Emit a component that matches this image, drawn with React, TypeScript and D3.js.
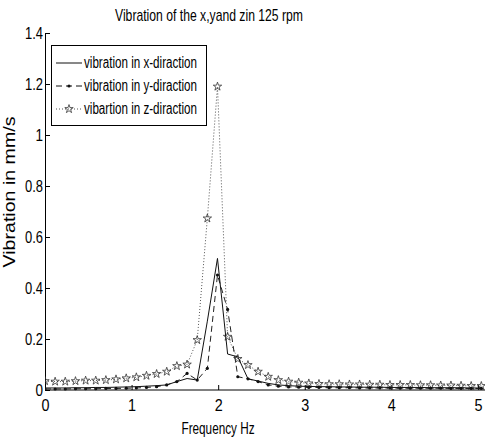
import React, { useRef, useEffect } from 'react'
import * as d3 from 'd3'

// frequency bins (Hz)
const freq = [
	0, 0.117, 0.234, 0.352, 0.469, 0.586, 0.703, 0.82, 0.938, 1.055, 1.172, 1.289, 1.406, 1.523, 1.641,
	1.758, 1.875, 1.992, 2.109, 2.227, 2.344, 2.461, 2.578, 2.695, 2.813, 2.93, 3.047, 3.164, 3.281, 3.398,
	3.516, 3.633, 3.75, 3.867, 3.984, 4.102, 4.219, 4.336, 4.453, 4.57, 4.688, 4.805, 4.922, 5.039,
]

const vibX = [
	0.008, 0.008, 0.008, 0.009, 0.009, 0.01, 0.01, 0.011, 0.012, 0.013, 0.015, 0.017, 0.02, 0.033, 0.045,
	0.039, 0.27, 0.516, 0.141, 0.13, 0.044, 0.035, 0.026, 0.02, 0.017, 0.015, 0.014, 0.013, 0.013, 0.012,
	0.012, 0.011, 0.011, 0.011, 0.01, 0.01, 0.01, 0.01, 0.009, 0.009, 0.009, 0.009, 0.008, 0.008,
]

const vibY = [
	0.004, 0.004, 0.004, 0.005, 0.005, 0.005, 0.006, 0.006, 0.007, 0.008, 0.01, 0.013, 0.02, 0.033, 0.065,
	0.039, 0.085, 0.451, 0.316, 0.052, 0.044, 0.033, 0.02, 0.015, 0.012, 0.011, 0.01, 0.01, 0.009, 0.009,
	0.009, 0.008, 0.008, 0.008, 0.008, 0.007, 0.007, 0.007, 0.007, 0.007, 0.006, 0.006, 0.006, 0.006,
]

const vibZ = [
	0.035, 0.033, 0.033, 0.035, 0.037, 0.037, 0.039, 0.042, 0.046, 0.05, 0.056, 0.063, 0.072, 0.094, 0.1,
	0.196, 0.673, 1.19, 0.209, 0.122, 0.098, 0.072, 0.052, 0.039, 0.033, 0.029, 0.026, 0.024, 0.023, 0.023,
	0.022, 0.022, 0.021, 0.021, 0.02, 0.02, 0.02, 0.019, 0.019, 0.018, 0.018, 0.017, 0.016, 0.016,
]

const xTicks = [0, 1, 2, 3, 4, 5]
const yTicks = [0, 0.2, 0.4, 0.6, 0.8, 1, 1.2, 1.4]
const legendLabels = ['vibration in x-diraction', 'vibration in y-diraction', 'vibartion in z-diraction']

const FONT = "'Liberation Sans Narrow', 'Arial Narrow', 'Liberation Sans', Arial, sans-serif"

const App = () => {
	const svgRef = useRef(null)

	useEffect(() => {
		const svg = d3.select(svgRef.current)
		svg.selectAll('*').remove()

		const width = 485
		const height = 441
		const margin = { top: 33, right: 1, bottom: 51, left: 45 }

		svg.attr('width', width).attr('height', height)

		const xScale = d3.scaleLinear().domain([0, 5.07]).range([margin.left, width - margin.right])
		const yScale = d3.scaleLinear().domain([0, 1.4]).range([height - margin.bottom, margin.top])

		svg.append('rect').attr('width', width).attr('height', height).attr('fill', '#fff')

		// tytuł
		svg
			.append('text')
			.attr('x', 209)
			.attr('y', 21)
			.attr('text-anchor', 'middle')
			.attr('font-family', FONT)
			.attr('font-size', 17)
			.attr('textLength', 188)
			.attr('lengthAdjust', 'spacingAndGlyphs')
			.text('Vibration of the x,yand zin 125 rpm')

		// osie - wąskie etykiety jak w matlabie
		const narrow = (sel, perChar) =>
			sel
				.attr('font-family', FONT)
				.attr('font-size', 16)
				.attr('fill', '#000')
				.attr('lengthAdjust', 'spacingAndGlyphs')
				.attr('textLength', function () {
					const t = d3.select(this).text()
					return t.replace('.', '').length * perChar + (t.includes('.') ? 3 : 0)
				})

		const xAxis = d3.axisBottom(xScale).tickValues(xTicks).tickSize(-5).tickPadding(10).tickFormat(d3.format('d'))
		const gx = svg
			.append('g')
			.attr('transform', `translate(0, ${height - margin.bottom})`)
			.call(xAxis)
		gx.select('.domain').attr('d', `M${margin.left},0H${width}`)
		narrow(gx.selectAll('text'), 8)

		const yAxis = d3.axisLeft(yScale).tickValues(yTicks).tickSize(-5).tickPadding(2).tickFormat(d3.format('~g'))
		const gy = svg.append('g').attr('transform', `translate(${margin.left}, 0)`).call(yAxis)
		narrow(gy.selectAll('text'), 7.5)

		svg
			.append('text')
			.attr('transform', `translate(15, 192) rotate(-90)`)
			.attr('text-anchor', 'middle')
			.attr('font-family', FONT)
			.attr('font-size', 17)
			.attr('textLength', 151)
			.attr('lengthAdjust', 'spacingAndGlyphs')
			.text('Vibration in mm/s')

		svg
			.append('text')
			.attr('x', 218)
			.attr('y', 434)
			.attr('text-anchor', 'middle')
			.attr('font-family', FONT)
			.attr('font-size', 16)
			.attr('textLength', 73)
			.attr('lengthAdjust', 'spacingAndGlyphs')
			.text('Frequency Hz')

		// dane
		const clip = svg.append('clipPath').attr('id', 'plot-clip')
		clip
			.append('rect')
			.attr('x', margin.left)
			.attr('y', margin.top - 10)
			.attr('width', width - margin.left)
			.attr('height', height - margin.bottom - margin.top + 12)

		const plot = svg.append('g').attr('clip-path', 'url(#plot-clip)')

		const makeLine = (vals: number[]) =>
			d3
				.line<number>()
				.x((_, i) => xScale(freq[i]))
				.y(d => yScale(d))(vals)

		const star = d3.symbol().type(d3.symbolStar).size(22)

		// z
		plot
			.append('path')
			.attr('d', makeLine(vibZ))
			.attr('fill', 'none')
			.attr('stroke', '#555')
			.attr('stroke-width', 1)
			.attr('stroke-dasharray', '1,2')
		plot
			.selectAll('.star')
			.data(vibZ)
			.enter()
			.append('path')
			.attr('class', 'star')
			.attr('transform', (d, i) => `translate(${xScale(freq[i])},${yScale(d)})`)
			.attr('d', star)
			.attr('fill', 'none')
			.attr('stroke', '#333')
			.attr('stroke-width', 0.8)

		// y
		plot
			.append('path')
			.attr('d', makeLine(vibY))
			.attr('fill', 'none')
			.attr('stroke', '#222')
			.attr('stroke-width', 1)
			.attr('stroke-dasharray', '6,4')
		plot
			.selectAll('.dot')
			.data(vibY)
			.enter()
			.append('circle')
			.attr('class', 'dot')
			.attr('cx', (d, i) => xScale(freq[i]))
			.attr('cy', d => yScale(d))
			.attr('r', 1.6)
			.attr('fill', '#111')

		// x
		plot
			.append('path')
			.attr('d', makeLine(vibX))
			.attr('fill', 'none')
			.attr('stroke', '#111')
			.attr('stroke-width', 1)

		// legenda
		const lg = svg.append('g')
		lg.append('rect')
			.attr('x', 51.5)
			.attr('y', 45.5)
			.attr('width', 155)
			.attr('height', 80)
			.attr('fill', '#fff')
			.attr('stroke', '#000')

		const rows = [63, 86, 109]
		legendLabels.forEach((label, i) => {
			const y = rows[i]
			const line = lg
				.append('line')
				.attr('x1', 56)
				.attr('x2', 82)
				.attr('y1', y)
				.attr('y2', y)
				.attr('stroke', i === 2 ? '#555' : '#111')
			if (i === 1) {
				line.attr('stroke-dasharray', '6,4')
				lg.append('circle').attr('cx', 69).attr('cy', y).attr('r', 1.6).attr('fill', '#111')
			}
			if (i === 2) {
				line.attr('stroke-dasharray', '1,2')
				lg.append('path')
					.attr('transform', `translate(69,${y})`)
					.attr('d', star)
					.attr('fill', 'none')
					.attr('stroke', '#333')
					.attr('stroke-width', 0.8)
			}
			lg.append('text')
				.attr('x', 84)
				.attr('y', y + 5)
				.attr('font-family', FONT)
				.attr('font-size', 16)
				.attr('textLength', 113)
				.attr('lengthAdjust', 'spacingAndGlyphs')
				.text(label)
		})
	}, [])

	return <svg ref={svgRef} style={{ position: 'absolute', left: 0, top: 0 }}></svg>
}

export default App
